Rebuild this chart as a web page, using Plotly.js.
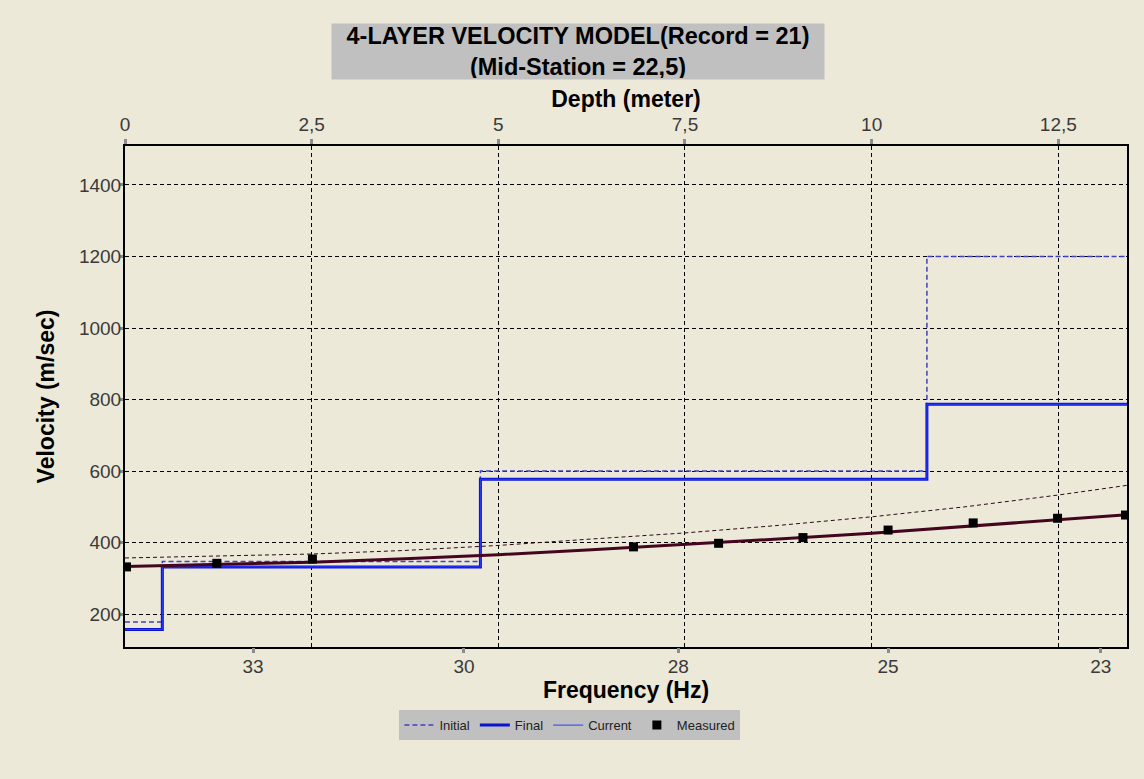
<!DOCTYPE html>
<html>
<head>
<meta charset="utf-8">
<script src="https://cdn.plot.ly/plotly-3.0.1.min.js"></script>
<style>
  html, body { margin: 0; padding: 0; background: #ECE9D8; }
  #chart { width: 1144px; height: 779px; }
</style>
</head>
<body>
<div id="chart"></div>
<script>
// ---- Data ----
const depthTicks = [0, 2.5, 5, 7.5, 10, 12.5];
const depthTickText = ['0', '2,5', '5', '7,5', '10', '12,5'];
const freqTickPos = [1.715, 4.54, 7.41, 10.22, 13.07];
const freqTickText = ['33', '30', '28', '25', '23'];

const layerDepth = [0, 0.5, 4.76, 10.74];
const initialVel = [178, 347, 600, 1200];
const finalVel = [157, 332, 577, 787];
const currentVel = [157, 332, 577, 787];

const measuredPos = [0.02, 1.23, 2.51, 6.81, 7.95, 9.08, 10.22, 11.36, 12.49, 13.40];
const measuredVel = [332, 342, 354, 388, 398, 414, 435, 455, 468, 477];

const curvePos = [0, 1.25, 2.5, 3.75, 5, 6.25, 7.5, 8.75, 10, 11.25, 12.5, 13.42];
const finalCurve = [333, 338, 345, 355, 366, 380, 394, 410, 426, 445, 466, 478];
const initialCurve = [357, 362, 368, 378, 392, 410, 427, 448, 472, 500, 533, 560];

const depthMax = 13.42;
const yRange = [108, 1509];

// ---- Build step traces ----
function stepX(depths) { return depths.concat([depthMax]); }
function stepY(v) { return v.concat([v[v.length - 1]]); }

const FONT = 'Arial, "Liberation Sans", sans-serif';

const traces = [
  {
    x: curvePos, y: initialCurve, xaxis: 'x2', mode: 'lines', showlegend: false, hoverinfo: 'skip',
    line: { color: '#2a0a1a', width: 1, dash: '4px,3px' }
  },
  {
    x: stepX(layerDepth), y: stepY(initialVel), mode: 'lines', name: 'Initial',
    line: { color: '#4040c0', width: 1.5, dash: '5px,3px', shape: 'hv' }
  },
  {
    x: stepX(layerDepth), y: stepY(finalVel), mode: 'lines', name: 'Final',
    line: { color: '#0a14d0', width: 3, shape: 'hv' }
  },
  {
    x: stepX(layerDepth), y: stepY(currentVel), mode: 'lines', name: 'Current',
    line: { color: '#2a3cff', width: 1, shape: 'hv' }
  },
  {
    x: curvePos, y: finalCurve, xaxis: 'x2', mode: 'lines', showlegend: false, hoverinfo: 'skip',
    line: { color: '#44061f', width: 3 }
  },
  {
    x: measuredPos, y: measuredVel, xaxis: 'x2', mode: 'markers', name: 'Measured',
    marker: { color: '#000000', symbol: 'square', size: 9 }
  }
];

const layout = {
  width: 1144, height: 779,
  paper_bgcolor: '#ECE9D8', plot_bgcolor: '#ECE9D8',
  margin: { l: 125, r: 17, t: 146, b: 132 },
  font: { family: FONT, color: '#333333' },
  showlegend: true,
  legend: {
    orientation: 'h', x: 0.444, xanchor: 'center', y: -0.156, yanchor: 'middle',
    bgcolor: '#C0C0C0', font: { family: FONT, size: 13, color: '#222' },
    traceorder: 'normal', itemwidth: 30, tracegroupgap: 0
  },
  xaxis: {
    side: 'top', range: [0, depthMax], tickmode: 'array',
    tickvals: depthTicks, ticktext: depthTickText,
    showgrid: true, gridcolor: '#000000', gridwidth: 1, griddash: '4px,3px',
    zeroline: false, showline: true, linecolor: '#000000', linewidth: 2, mirror: true,
    ticks: 'outside', ticklen: 5, tickwidth: 3, tickcolor: '#8c8c8c',
    tickfont: { family: FONT, size: 19, color: '#3a3a3a' },
    title: { text: 'Depth (meter)', font: { family: FONT, size: 23, weight: 'bold', color: '#000' }, standoff: 0 }
  },
  xaxis2: {
    overlaying: 'x', side: 'bottom', anchor: 'y', range: [0, depthMax],
    tickmode: 'array', tickvals: freqTickPos, ticktext: freqTickText,
    showgrid: false, zeroline: false, showline: false,
    ticks: 'outside', ticklen: 5, tickwidth: 3, tickcolor: '#8c8c8c', ticklabelstandoff: -3,
    tickfont: { family: FONT, size: 19, color: '#3a3a3a' },
    title: { text: 'Frequency (Hz)', font: { family: FONT, size: 23, weight: 'bold', color: '#000' }, standoff: 5 }
  },
  yaxis: {
    range: yRange, tickmode: 'array', tickvals: [200, 400, 600, 800, 1000, 1200, 1400],
    showgrid: true, gridcolor: '#000000', gridwidth: 1, griddash: '4px,3px',
    zeroline: false, showline: true, linecolor: '#000000', linewidth: 2, mirror: true,
    ticks: 'outside', ticklen: 4, tickwidth: 3, tickcolor: '#8c8c8c', ticklabelstandoff: -6,
    tickfont: { family: FONT, size: 19, color: '#3a3a3a' },
    title: { text: 'Velocity (m/sec)', font: { family: FONT, size: 23, weight: 'bold', color: '#000' }, standoff: 18 }
  },
  annotations: [{
    xref: 'paper', yref: 'paper', x: 0.452, y: 1.1886, xanchor: 'center', yanchor: 'middle',
    text: '4-LAYER VELOCITY MODEL(Record = 21)<br>(Mid-Station = 22,5)',
    showarrow: false, bgcolor: '#C0C0C0', width: 490, height: 53,
    font: { family: FONT, size: 23.5, weight: 'bold', color: '#000' }
  }]
};

Plotly.newPlot('chart', traces, layout, { displayModeBar: false, staticPlot: true });
</script>
</body>
</html>
